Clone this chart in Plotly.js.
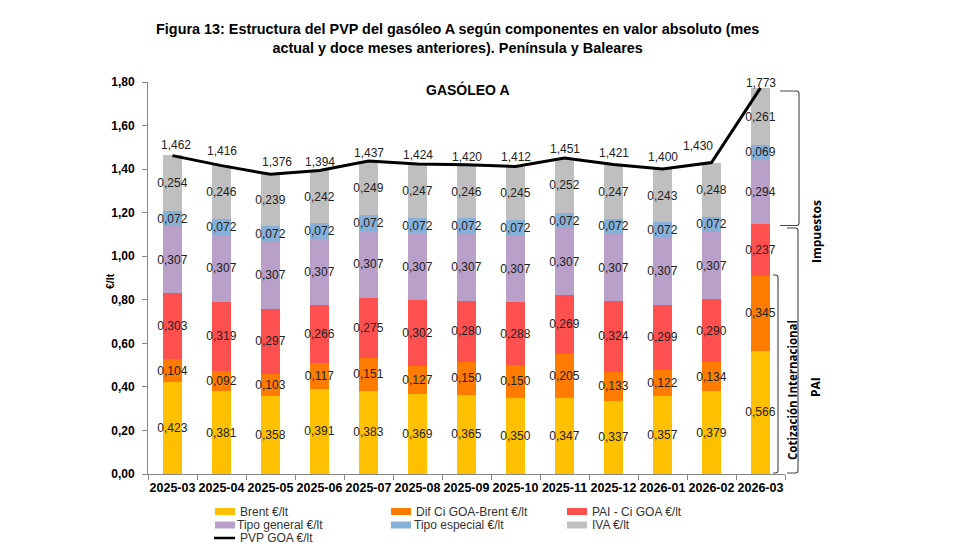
<!DOCTYPE html>
<html>
<head>
<meta charset="utf-8">
<script src="https://cdn.plot.ly/plotly-3.0.1.min.js"></script>
<style>html,body{margin:0;padding:0;background:#fff}</style>
</head>
<body>
<div id="chart" style="width:980px;height:560px"></div>
<script>
const categories = ["2025-03","2025-04","2025-05","2025-06","2025-07","2025-08","2025-09","2025-10","2025-11","2025-12","2026-01","2026-02","2026-03"];
const brent = [0.423,0.381,0.358,0.391,0.383,0.369,0.365,0.350,0.347,0.337,0.357,0.379,0.566];
const difCi = [0.104,0.092,0.103,0.117,0.151,0.127,0.150,0.150,0.205,0.133,0.122,0.134,0.345];
const paiCi = [0.303,0.319,0.297,0.266,0.275,0.302,0.280,0.288,0.269,0.324,0.299,0.290,0.237];
const tipoGeneral = [0.307,0.307,0.307,0.307,0.307,0.307,0.307,0.307,0.307,0.307,0.307,0.307,0.294];
const tipoEspecial = [0.072,0.072,0.072,0.072,0.072,0.072,0.072,0.072,0.072,0.072,0.072,0.072,0.069];
const iva = [0.254,0.246,0.239,0.242,0.249,0.247,0.246,0.245,0.252,0.247,0.243,0.248,0.261];
const pvp = [1.462,1.416,1.376,1.394,1.437,1.424,1.420,1.412,1.451,1.421,1.400,1.430,1.773];

// label nudges for the PVP line labels (pixels relative to the point)
const pvpLabelDx = [3,0,6,0,0,0,0,0,0,0,0,-14,0];
const pvpLabelDy = [11,15,12,8,8,9,8,9.5,9,12,12,16.5,5];

const FONT = "Liberation Sans, Arial, sans-serif";
const LABEL = "Open Sans, Liberation Sans, sans-serif";
const INK = "#222";

function bar(name, y, color) {
  return {
    type: "bar", name, x: categories, y,
    showlegend: false,
    marker: {color, line: {width: 0}},
    texttemplate: "%{y:.3f}",
    textposition: "inside",
    insidetextanchor: "middle",
    textangle: 0,
    constraintext: "none",
    insidetextfont: {family: FONT, size: 12, color: INK},
    cliponaxis: false
  };
}
const seriesNames = ["Brent €/lt","Dif Ci GOA-Brent €/lt","PAI - Ci GOA €/lt","Tipo general €/lt","Tipo especial €/lt","IVA €/lt"];
const seriesColors = ["#FFC000","#FF7C00","#FF5050","#B8A0C8","#86B0D8","#BFBFBF"];
const seriesValues = [brent,difCi,paiCi,tipoGeneral,tipoEspecial,iva];
const traces = seriesValues.map((v,i)=>bar(seriesNames[i],v,seriesColors[i]));
traces.push({
  type: "scatter", mode: "lines", name: "PVP GOA €/lt", showlegend: false,
  x: categories, y: pvp,
  line: {color: "#000", width: 3},
  cliponaxis: false
});

const px = x => (x - 148) / 637;
const py = y => (474 - y) / 392;

function bracket(x0, x1, y0, y1) {
  const r = 2.5;
  return {type: "path", xref: "paper", yref: "paper",
    path: `M ${px(x0)} ${py(y0)} L ${px(x1-r)} ${py(y0)} Q ${px(x1)} ${py(y0)} ${px(x1)} ${py(y0+r)} L ${px(x1)} ${py(y1-r)} Q ${px(x1)} ${py(y1)} ${px(x1-r)} ${py(y1)} L ${px(x0)} ${py(y1)}`,
    line: {color: "#444", width: 1.1}};
}

// legend entries, placed by column and row like the reference
const legendX = [215,391,567,215,391,567];
const legendTextX = [240,416,592,237,414,592];
const legendRowY = [511.5,525,538];
const legendShapes = seriesNames.map((n,i)=>{
  const y = legendRowY[i<3?0:1];
  return {type:"rect",xref:"paper",yref:"paper",x0:px(legendX[i]),x1:px(legendX[i]+20),y0:py(y-3.5),y1:py(y+3.5),
    fillcolor:seriesColors[i],line:{width:0}};
});
legendShapes.push({type:"line",xref:"paper",yref:"paper",x0:px(214),x1:px(235),y0:py(legendRowY[2]),y1:py(legendRowY[2]),line:{color:"#000",width:2.5}});
const legendTexts = seriesNames.map((n,i)=>({
  text:n,xref:"paper",yref:"paper",x:px(legendTextX[i]),y:py(legendRowY[i<3?0:1]),xanchor:"left",yanchor:"middle",showarrow:false,xshift:-2,
  font:{family:FONT,size:12,color:"#333"}
}));
legendTexts.push({text:"PVP GOA €/lt",xref:"paper",yref:"paper",x:px(240),y:py(legendRowY[2]),xanchor:"left",yanchor:"middle",showarrow:false,xshift:-2,
  font:{family:FONT,size:12,color:"#333"}});

const pvpLabels = pvp.map((v,i)=>({
  text: v.toFixed(3).replace(".",","),
  x: categories[i], y: v, xref:"x", yref:"y",
  showarrow:false, xanchor:"center", yanchor:"middle",
  xshift: pvpLabelDx[i], yshift: pvpLabelDy[i],
  font:{family:FONT,size:12,color:INK}
}));

function note(text, x, y, size, family, angle) {
  return {text, xref:"paper", yref:"paper", x:px(x), y:py(y), xanchor:"center", yanchor:"middle",
    textangle: angle, showarrow:false, font:{family, size, weight:700, color:"#000"}};
}

const layout = {
  width: 980, height: 560,
  margin: {l: 148, r: 195, t: 82, b: 86, pad: 0},
  paper_bgcolor: "#fff", plot_bgcolor: "#fff",
  separators: ",.",
  barmode: "stack", bargap: 0.6,
  showlegend: false,
  hovermode: false,
  font: {family: FONT, color: "#000"},
  title: {
    text: "Figura 13: Estructura del PVP del gasóleo A según componentes en valor absoluto (mes<br>actual y doce meses anteriores). Península y Baleares",
    font: {family: FONT, size: 14.4, weight: 700, color: "#000"},
    x: 0.467, xanchor: "center", y: 0.939, yanchor: "top", yref: "container"
  },
  xaxis: {
    type: "category", tickson: "boundaries", ticks: "outside", ticklen: 5, automargin: false,
    tickcolor: "#888", linecolor: "#888", showline: true, showgrid: false, zeroline: false,
    tickfont: {family: FONT, size: 12.5, weight: 700, color: "#000"}, tickangle: 0, ticklabelstandoff: 2
  },
  yaxis: {
    range: [0, 1.8], dtick: 0.2, tickformat: ".2f", ticks: "outside", ticklen: 5, automargin: false,
    tickcolor: "#888", linecolor: "#888", showline: true, showgrid: false, zeroline: false,
    tickfont: {family: FONT, size: 12, weight: 700, color: "#000"}, ticklabelstandoff: 5
  },
  shapes: [
    bracket(780, 799, 91, 225.5),
    bracket(787, 798, 228, 473),
    bracket(773, 778, 275, 473),
    ...legendShapes
  ],
  annotations: [
    note("GASÓLEO A", 468, 89, 14, FONT, 0),
    note("€/lt", 110, 281, 10.5, FONT, -90),
    note("Impuestos", 816, 232, 12, LABEL, -90),
    note("PAI", 815, 387, 12, LABEL, -90),
    note("Cotización Internacional", 792, 390, 11.5, LABEL, -90),
    ...pvpLabels,
    ...legendTexts
  ]
};
Plotly.newPlot("chart", traces, layout, {displayModeBar: false, staticPlot: true});
</script>
</body>
</html>
